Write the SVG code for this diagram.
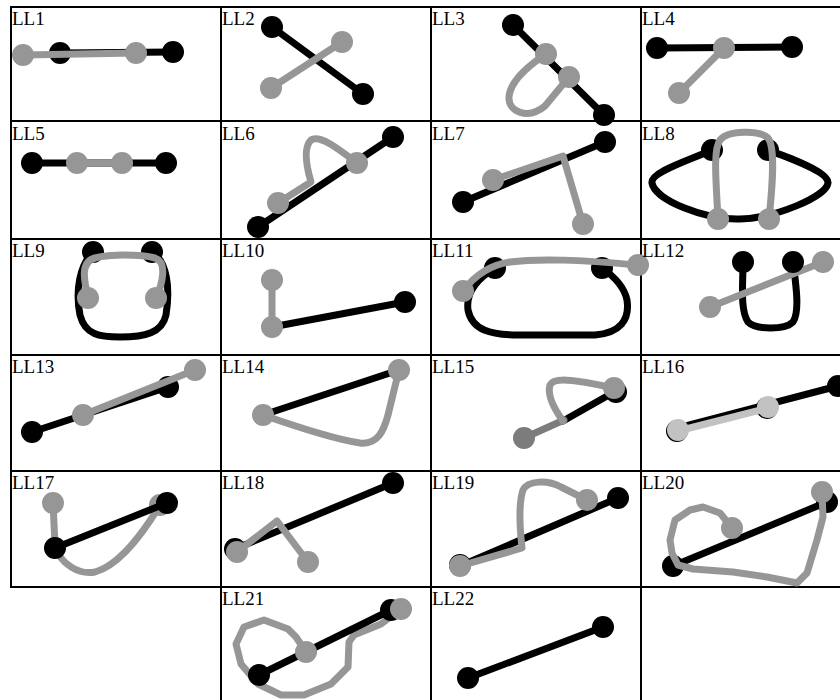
<svg xmlns="http://www.w3.org/2000/svg" width="840" height="700" viewBox="0 0 840 700">
<style>
.grid{stroke:#000;stroke-width:2;fill:none}
.lbl{font-family:"Liberation Serif","Times New Roman",serif;font-size:19px;fill:#000}
.bk{stroke:#000;stroke-width:7;fill:none;stroke-linecap:round;stroke-linejoin:round}
.gr{stroke:#969696;stroke-width:7;fill:none;stroke-linecap:round;stroke-linejoin:round}
.dg{stroke:#7c7c7c;stroke-width:7;fill:none;stroke-linecap:round}
.lg{stroke:#c2c2c2;stroke-width:7;fill:none;stroke-linecap:round}
.bd{fill:#000}
.gd{fill:#969696}
.dgd{fill:#7c7c7c}
.lgd{fill:#c2c2c2}
</style>
<rect width="840" height="700" fill="#fff"/>
<g id="grid" class="grid">
<path d="M10,7H840M10,121H840M10,239H840M10,355H840M10,471H840M10,587H840"/>
<path d="M11,6V588M221,6V700M431,6V700M641,6V700"/>
</g>
<g id="LL1"><text class="lbl" x="12" y="25">LL1</text>
<path class="bk" d="M60,53L173,52"/><circle class="bd" cx="60" cy="53" r="11"/><circle class="bd" cx="173" cy="52" r="11"/>
<path class="gr" d="M23,55L136,53"/><circle class="gd" cx="23" cy="55" r="11"/><circle class="gd" cx="136" cy="53" r="11"/></g>
<g id="LL2"><text class="lbl" x="222" y="25">LL2</text>
<path class="bk" d="M272,27L363,94"/><circle class="bd" cx="272" cy="27" r="11"/><circle class="bd" cx="363" cy="94" r="11"/>
<path class="gr" d="M271,88L342,42"/><circle class="gd" cx="271" cy="88" r="11"/><circle class="gd" cx="342" cy="42" r="11"/></g>
<g id="LL3"><text class="lbl" x="432" y="25">LL3</text>
<path class="bk" d="M513,25L604,115"/><circle class="bd" cx="513" cy="25" r="11"/><circle class="bd" cx="604" cy="115" r="11"/>
<path class="gr" d="M546,54C528,66 510,82 509,97C508,112 528,120 545,106L569,77"/><circle class="gd" cx="546" cy="54" r="11"/><circle class="gd" cx="569" cy="77" r="11"/></g>
<g id="LL4"><text class="lbl" x="642" y="25">LL4</text>
<path class="bk" d="M657,48L792,47"/><circle class="bd" cx="657" cy="48" r="11"/><circle class="bd" cx="792" cy="47" r="11"/>
<path class="gr" d="M724,48L679,93"/><circle class="gd" cx="724" cy="48" r="11"/><circle class="gd" cx="679" cy="93" r="11"/></g>
<g id="LL5"><text class="lbl" x="12" y="140">LL5</text>
<path class="bk" d="M32,163L166,163"/><circle class="bd" cx="32" cy="163" r="11"/><circle class="bd" cx="166" cy="163" r="11"/>
<path class="gr" d="M77,163L122,163"/><circle class="gd" cx="77" cy="163" r="11"/><circle class="gd" cx="122" cy="163" r="11"/></g>
<g id="LL6"><text class="lbl" x="222" y="140">LL6</text>
<path class="bk" d="M258,227L393,137"/><circle class="bd" cx="258" cy="227" r="11"/><circle class="bd" cx="393" cy="137" r="11"/>
<path class="gr" d="M278,203L311,182C306,165 303,148 311,140C320,134 340,150 357,163"/><circle class="gd" cx="278" cy="203" r="11"/><circle class="gd" cx="357" cy="163" r="11"/></g>
<g id="LL7"><text class="lbl" x="432" y="140">LL7</text>
<path class="bk" d="M463,202L605,142"/><circle class="bd" cx="463" cy="202" r="11"/><circle class="bd" cx="605" cy="142" r="11"/>
<path class="gr" d="M493,180L563,156L583,224"/><circle class="gd" cx="493" cy="180" r="11"/><circle class="gd" cx="583" cy="224" r="11"/></g>
<g id="LL8"><text class="lbl" x="642" y="140">LL8</text>
<path class="bk" d="M712,150C690,160 650,172 652,183C655,200 705,220 740,219C775,218 826,197 828,183C829,172 790,158 768,150"/><circle class="bd" cx="712" cy="150" r="11"/><circle class="bd" cx="768" cy="150" r="11"/>
<path class="gr" d="M718,219C716,180 713,150 720,140C728,130 760,130 768,138C776,148 772,190 769,219"/><circle class="gd" cx="718" cy="219" r="11"/><circle class="gd" cx="769" cy="219" r="11"/></g>
<g id="LL9"><text class="lbl" x="12" y="257">LL9</text>
<path class="bk" d="M93,252C80,265 75,290 80,315C85,335 100,337 120,337C145,337 162,333 166,315C170,290 168,262 152,252"/><circle class="bd" cx="93" cy="252" r="11"/><circle class="bd" cx="152" cy="252" r="11"/>
<path class="gr" d="M88,298C84,280 80,262 95,258C110,254 140,254 155,258C168,262 162,285 156,298"/><circle class="gd" cx="88" cy="298" r="11"/><circle class="gd" cx="156" cy="298" r="11"/></g>
<g id="LL10"><text class="lbl" x="222" y="257">LL10</text>
<path class="bk" d="M272,327L405,302"/><circle class="bd" cx="405" cy="302" r="11"/>
<path class="gr" d="M272,280L272,327"/><circle class="gd" cx="272" cy="280" r="11"/><circle class="gd" cx="272" cy="327" r="11"/></g>
<g id="LL11"><text class="lbl" x="432" y="257">LL11</text>
<path class="bk" d="M495,268C475,280 466,295 468,310C472,330 490,335 520,335L595,335C620,333 630,320 627,300C624,285 612,275 602,268"/><circle class="bd" cx="495" cy="268" r="11"/><circle class="bd" cx="602" cy="268" r="11"/>
<path class="gr" d="M463,291C475,275 490,265 510,262C540,258 580,260 638,265"/><circle class="gd" cx="463" cy="291" r="11"/><circle class="gd" cx="638" cy="265" r="11"/></g>
<g id="LL12"><text class="lbl" x="642" y="257">LL12</text>
<path class="bk" d="M743,262C743,285 740,310 748,322C756,330 785,330 793,322C800,312 796,285 793,262"/>
<path class="gr" d="M710,307L823,262"/><circle class="gd" cx="710" cy="307" r="11"/><circle class="gd" cx="823" cy="262" r="11"/>
<circle class="bd" cx="743" cy="262" r="11"/><circle class="bd" cx="793" cy="262" r="11"/></g>
<g id="LL13"><text class="lbl" x="12" y="373">LL13</text>
<path class="bk" d="M32,432L168,387"/><circle class="bd" cx="32" cy="432" r="11"/><circle class="bd" cx="168" cy="387" r="11"/>
<path class="gr" d="M83,415L195,370"/><circle class="gd" cx="83" cy="415" r="11"/><circle class="gd" cx="195" cy="370" r="11"/></g>
<g id="LL14"><text class="lbl" x="222" y="373">LL14</text>
<path class="bk" d="M263,415L399,370"/>
<path class="gr" d="M263,415C300,428 340,440 360,443C378,445 384,430 388,415L399,370"/><circle class="gd" cx="263" cy="415" r="11"/><circle class="gd" cx="399" cy="370" r="11"/></g>
<g id="LL15"><text class="lbl" x="432" y="373">LL15</text>
<path class="bk" d="M563,421L616,391"/><circle class="bd" cx="616" cy="392" r="11"/>
<path class="dg" d="M524,438L564,420"/><circle class="dgd" cx="524" cy="438" r="11"/>
<path class="gr" d="M563,421C555,410 547,395 550,385C553,378 570,378 614,388"/><circle class="gd" cx="614" cy="388" r="11"/></g>
<g id="LL16"><text class="lbl" x="642" y="373">LL16</text>
<path class="bk" d="M678,428L838,386"/><circle class="bd" cx="838" cy="386" r="11"/>
<circle class="bd" cx="677" cy="431" r="11"/><circle class="bd" cx="767" cy="408" r="11"/>
<path class="lg" d="M678,431L768,408"/><circle class="lgd" cx="678" cy="430" r="11"/><circle class="lgd" cx="768" cy="407" r="11"/></g>
<g id="LL17"><text class="lbl" x="12" y="489">LL17</text>
<path class="gr" d="M53,503L55,545C60,565 80,575 95,572C120,565 145,530 160,505"/><circle class="gd" cx="53" cy="503" r="11"/><circle class="gd" cx="160" cy="505" r="11"/>
<path class="bk" d="M55,548L167,503"/><circle class="bd" cx="55" cy="548" r="11"/><circle class="bd" cx="167" cy="503" r="11"/></g>
<g id="LL18"><text class="lbl" x="222" y="489">LL18</text>
<path class="bk" d="M235,549L393,483"/><circle class="bd" cx="235" cy="549" r="11"/><circle class="bd" cx="393" cy="483" r="11"/>
<path class="gr" d="M237,552L277,521L308,562"/><circle class="gd" cx="237" cy="552" r="11"/><circle class="gd" cx="308" cy="562" r="11"/></g>
<g id="LL19"><text class="lbl" x="432" y="489">LL19</text>
<path class="bk" d="M460,566L618,498"/><circle class="bd" cx="460" cy="565" r="11"/><circle class="bd" cx="618" cy="498" r="11"/>
<path class="gr" d="M460,566L522,548C520,530 518,505 523,490C528,480 548,480 561,487L587,500"/><circle class="gd" cx="460" cy="566" r="11"/><circle class="gd" cx="587" cy="500" r="11"/></g>
<g id="LL20"><text class="lbl" x="642" y="489">LL20</text>
<path class="bk" d="M673,566L827,502"/><circle class="bd" cx="673" cy="566" r="11"/><circle class="bd" cx="827" cy="502" r="11"/>
<path class="gr" d="M732,528L720,513L703,507L690,510L675,520L670,540L672,553L678,565L693,569L733,572L767,577L797,583L807,573L817,540L823,517L822,492"/><circle class="gd" cx="732" cy="528" r="11"/><circle class="gd" cx="822" cy="492" r="11"/></g>
<g id="LL21"><text class="lbl" x="222" y="605">LL21</text>
<path class="gr" d="M306,652L296,637L288,629L264,620L244,627L236,644L241,664L258,684L281,695L304,695L331,684L348,667L349,642L354,635L381,624L401,609"/>
<path class="bk" d="M259,675L391,610"/><circle class="bd" cx="259" cy="675" r="11"/><circle class="bd" cx="391" cy="610" r="11"/>
<circle class="gd" cx="306" cy="652" r="11"/><circle class="gd" cx="401" cy="609" r="11"/></g>
<g id="LL22"><text class="lbl" x="432" y="605">LL22</text>
<path class="bk" d="M468,678L603,627"/><circle class="bd" cx="468" cy="678" r="11"/><circle class="bd" cx="603" cy="627" r="11"/></g>
</svg>
